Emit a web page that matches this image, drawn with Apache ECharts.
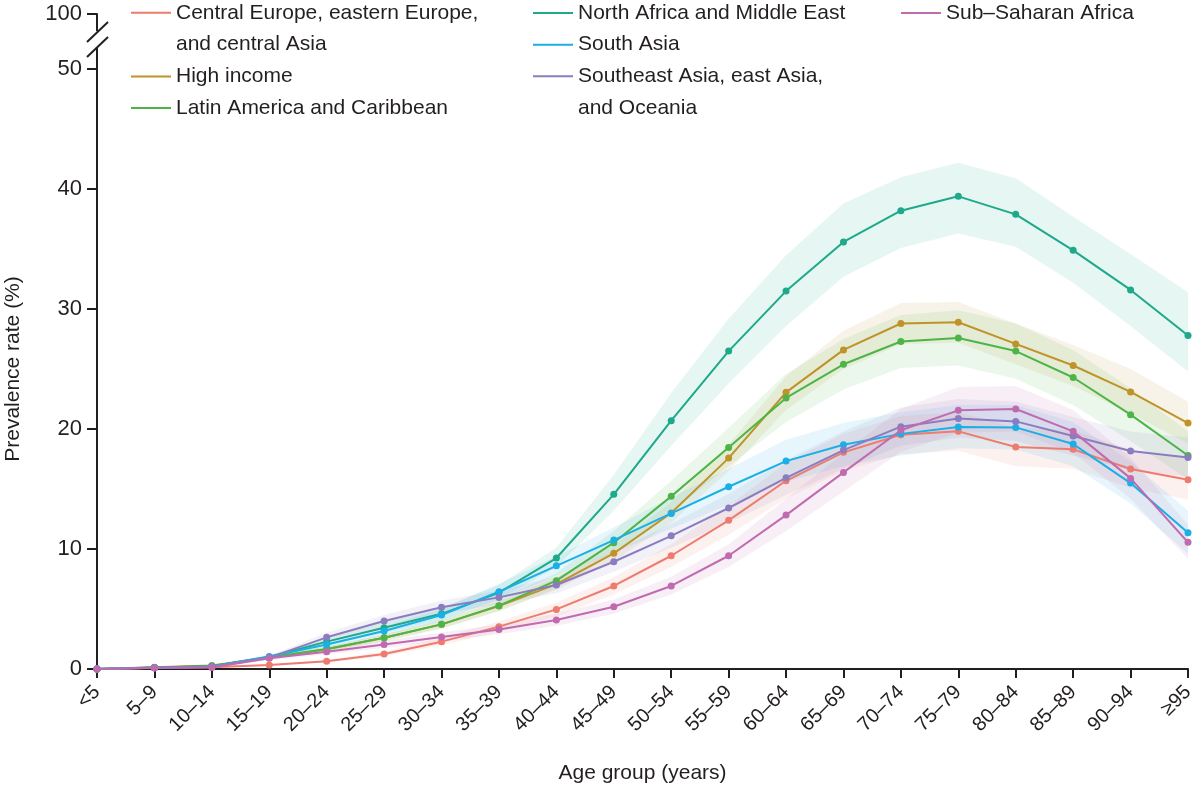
<!DOCTYPE html>
<html>
<head>
<meta charset="utf-8">
<script src="https://cdn.jsdelivr.net/npm/echarts@6/dist/echarts.min.js"></script>
<style>
html,body{margin:0;padding:0;background:#fff;}
#chart{width:1200px;height:787px;}
</style>
</head>
<body>
<div id="chart"></div>
<script>
// ---------- data ----------
var categories = ['<5','5–9','10–14','15–19','20–24','25–29','30–34','35–39','40–44','45–49','50–54','55–59','60–64','65–69','70–74','75–79','80–84','85–89','90–94','≥95'];

var yTickValues = [0, 10, 20, 30, 40, 50, 54.6];
var yTickLabels = ['0', '10', '20', '30', '40', '50', '100'];

var names = [
  'Central Europe, eastern Europe, and central Asia',
  'High income',
  'Latin America and Caribbean',
  'North Africa and Middle East',
  'South Asia',
  'Southeast Asia, east Asia, and Oceania',
  'Sub-Saharan Africa'
];

var centralEurope = [0, 0.1, 0.15, 0.33, 0.64, 1.25, 2.28, 3.53, 4.97, 6.92, 9.44, 12.39, 15.69, 18.06, 19.53, 19.81, 18.5, 18.31, 16.67, 15.78];
var centralEuropeLo = [0, 0.07, 0.11, 0.27, 0.54, 1.07, 1.98, 3.1, 4.4, 6.2, 8.5, 11.2, 14.2, 16.5, 17.9, 18.2, 16.9, 16.7, 15.1, 14.1];
var centralEuropeHi = [0, 0.13, 0.19, 0.4, 0.75, 1.45, 2.6, 3.95, 5.55, 7.65, 10.4, 13.6, 17.2, 19.6, 21.1, 21.4, 20.1, 19.9, 18.3, 17.5];

var highIncome = [0, 0.15, 0.3, 0.95, 1.65, 2.6, 3.72, 5.25, 7.08, 9.64, 13.0, 17.58, 23.06, 26.6, 28.8, 28.9, 27.1, 25.3, 23.1, 20.5];
var highIncomeLo = [0, 0.1, 0.22, 0.8, 1.45, 2.35, 3.4, 4.85, 6.6, 9.0, 12.2, 16.5, 21.6, 25.0, 27.1, 27.2, 25.4, 23.6, 21.3, 18.8];
var highIncomeHi = [0, 0.2, 0.38, 1.1, 1.85, 2.85, 4.05, 5.65, 7.6, 10.3, 13.9, 18.7, 24.4, 28.2, 30.5, 30.6, 28.8, 27.0, 25.0, 22.3];

var latinAmerica = [0, 0.12, 0.25, 0.95, 1.67, 2.6, 3.72, 5.28, 7.36, 10.53, 14.39, 18.47, 22.6, 25.4, 27.3, 27.6, 26.5, 24.3, 21.2, 17.8];
var latinAmericaLo = [0, 0.08, 0.2, 0.8, 1.45, 2.3, 3.35, 4.8, 6.7, 9.6, 13.1, 16.9, 20.6, 23.3, 25.1, 25.3, 24.2, 22.0, 19.0, 15.8];
var latinAmericaHi = [0, 0.16, 0.3, 1.1, 1.9, 2.9, 4.1, 5.8, 8.0, 11.5, 15.7, 20.1, 24.6, 27.5, 29.5, 29.9, 28.8, 26.6, 23.4, 19.8];

var northAfrica = [0, 0.12, 0.22, 1.0, 2.28, 3.44, 4.6, 6.36, 9.25, 14.56, 20.7, 26.5, 31.5, 35.6, 38.2, 39.4, 37.9, 34.9, 31.6, 27.8];
var northAfricaLo = [0, 0.08, 0.17, 0.85, 1.95, 3.0, 4.1, 5.8, 8.5, 13.2, 18.6, 23.8, 28.6, 32.7, 35.1, 36.3, 35.2, 32.2, 28.6, 24.8];
var northAfricaHi = [0, 0.16, 0.28, 1.15, 2.6, 3.9, 5.1, 7.0, 10.1, 16.2, 23.0, 29.2, 34.5, 38.8, 41.0, 42.2, 40.9, 37.7, 34.6, 31.4];

var southAsia = [0, 0.1, 0.2, 1.05, 2.05, 3.17, 4.5, 6.44, 8.6, 10.75, 12.97, 15.19, 17.33, 18.69, 19.6, 20.17, 20.14, 18.75, 15.5, 11.36];
var southAsiaLo = [0, 0.07, 0.15, 0.9, 1.8, 2.8, 4.0, 5.8, 7.8, 9.7, 11.7, 13.7, 15.6, 16.9, 17.8, 18.4, 18.3, 16.9, 13.8, 9.6];
var southAsiaHi = [0, 0.13, 0.25, 1.2, 2.3, 3.55, 5.0, 7.1, 9.4, 11.8, 14.3, 16.7, 19.1, 20.5, 21.4, 22.0, 22.0, 20.6, 17.3, 13.2];

var southeastAsia = [0, 0.1, 0.18, 0.95, 2.64, 4.0, 5.14, 5.97, 7.0, 8.94, 11.1, 13.42, 15.94, 18.25, 20.2, 20.89, 20.64, 19.42, 18.17, 17.64];
var southeastAsiaLo = [0, 0.07, 0.14, 0.8, 2.25, 3.5, 4.6, 5.4, 6.3, 8.1, 10.1, 12.2, 14.5, 16.7, 18.6, 19.3, 19.0, 17.8, 16.6, 16.0];
var southeastAsiaHi = [0, 0.13, 0.22, 1.1, 3.05, 4.5, 5.7, 6.55, 7.7, 9.8, 12.1, 14.6, 17.4, 19.8, 21.8, 22.5, 22.3, 21.0, 19.8, 19.3];

var subSaharan = [0, 0.08, 0.12, 0.9, 1.44, 2.05, 2.67, 3.3, 4.08, 5.19, 6.92, 9.44, 12.83, 16.39, 19.9, 21.56, 21.67, 19.81, 15.89, 10.56];
var subSaharanLo = [0, 0.05, 0.09, 0.75, 1.2, 1.75, 2.3, 2.9, 3.6, 4.6, 6.2, 8.5, 11.5, 14.8, 18.1, 19.7, 19.8, 18.0, 14.2, 9.2];
var subSaharanHi = [0, 0.11, 0.15, 1.05, 1.7, 2.35, 3.05, 3.7, 4.6, 5.8, 7.7, 10.4, 14.2, 18.0, 21.7, 23.5, 23.6, 21.6, 17.6, 12.0];

// ---------- styles / layout ----------
var colors = ['#EE7B6D', '#BF9329', '#4DB548', '#1DA98A', '#1AAFE6', '#8A7DBF', '#C06AB0'];
var legendText = [
  'Central Europe, eastern Europe,\nand central Asia',
  'High income',
  'Latin America and Caribbean',
  'North Africa and Middle East',
  'South Asia',
  'Southeast Asia, east Asia,\nand Oceania',
  'Sub–Saharan Africa'
];
var legendCol = [0, 0, 0, 1, 1, 1, 2];
var legendRow = [0, 2, 3, 0, 1, 2, 0];
var colLeft = [131, 533, 901];
var rowY0 = 12, rowStep = 31.7, lineH = 31.7;

var FONT = "'Liberation Sans', Arial, sans-serif";
var INK = '#231F20';

var values = [centralEurope, highIncome, latinAmerica, northAfrica, southAsia, southeastAsia, subSaharan];
var lows = [centralEuropeLo, highIncomeLo, latinAmericaLo, northAfricaLo, southAsiaLo, southeastAsiaLo, subSaharanLo];
var highs = [centralEuropeHi, highIncomeHi, latinAmericaHi, northAfricaHi, southAsiaHi, southeastAsiaHi, subSaharanHi];

var series = [];
// uncertainty bands
for (var k = 0; k < names.length; k++) {
  series.push({
    name: names[k] + ' lower', type: 'line', stack: 'band' + k, data: lows[k],
    symbol: 'none', silent: true, lineStyle: { opacity: 0 }, z: 1
  });
  series.push({
    name: names[k] + ' band', type: 'line', stack: 'band' + k,
    data: highs[k].map(function (h, i) { return +(h - lows[k][i]).toFixed(3); }),
    symbol: 'none', silent: true, lineStyle: { opacity: 0 },
    areaStyle: { color: colors[k], opacity: 0.11 }, z: 1
  });
}
// lines
for (var k2 = 0; k2 < names.length; k2++) {
  series.push({
    name: names[k2], type: 'line', data: values[k2],
    symbol: 'circle', symbolSize: 7, showAllSymbol: true,
    lineStyle: { color: colors[k2], width: 2 },
    itemStyle: { color: colors[k2] }, z: 3
  });
}

// legends (one per entry). Two-line entries use an icon whose visible stroke
// sits at the top of a taller box so that it lines up with the first text line.
var legends = [];
for (var j = 0; j < names.length; j++) {
  (function (idx) {
    var twoLines = legendText[idx].indexOf('\n') >= 0;
    var iconY = rowY0 + rowStep * legendRow[idx];
    var iconH = twoLines ? Math.round(lineH) + 2 : 2;
    var iconPath = twoLines
      ? 'path://M0,0L40,0L40,2L0,2Z M0,' + (iconH - 0.01) + 'L0.01,' + (iconH - 0.01) + 'L0.01,' + iconH + 'L0,' + iconH + 'Z'
      : 'rect';
    legends.push({
      data: [names[idx]],
      left: colLeft[legendCol[idx]],
      top: iconY - lineH / 2 + 1,
      padding: 0,
      orient: 'vertical',
      icon: iconPath,
      itemWidth: 40,
      itemHeight: iconH,
      selectedMode: false,
      formatter: function () { return legendText[idx]; },
      textStyle: { fontFamily: FONT, fontSize: 21, color: INK, lineHeight: lineH }
    });
  })(j);
}

var chart = echarts.init(document.getElementById('chart'), null, { renderer: 'canvas' });
var option = {
  animation: false,
  backgroundColor: '#fff',
  color: colors,
  legend: legends,
  grid: { left: 97, right: 12, top: 14, bottom: 118, containLabel: false, outerBoundsMode: 'none' },
  xAxis: {
    type: 'category',
    data: categories,
    boundaryGap: false,
    name: 'Age group (years)',
    nameLocation: 'middle',
    nameGap: 94,
    nameTextStyle: { fontFamily: FONT, fontSize: 21, color: INK },
    axisLine: { lineStyle: { color: INK, width: 2 } },
    axisTick: { length: 9, lineStyle: { color: INK, width: 2 }, alignWithLabel: true, interval: 0 },
    axisLabel: { interval: 0, rotate: 45, fontFamily: FONT, fontSize: 20, color: INK, margin: 20 },
    splitLine: { show: false }
  },
  yAxis: {
    type: 'value',
    min: 0,
    max: 54.6,
    name: 'Prevalence rate (%)',
    nameLocation: 'middle',
    nameGap: 73,
    nameTextStyle: { fontFamily: FONT, fontSize: 21, color: INK, padding: [0, 55, 0, 0] },
    axisLine: { show: true, lineStyle: { color: INK, width: 2 } },
    axisTick: { show: true, length: 10, lineStyle: { color: INK, width: 2 }, customValues: yTickValues },
    axisLabel: {
      fontFamily: FONT, fontSize: 22, color: INK, margin: 15,
      customValues: yTickValues,
      formatter: function (v) {
        var i = yTickValues.indexOf(v);
        return i >= 0 ? yTickLabels[i] : '';
      }
    },
    splitLine: { show: false }
  },
  series: series
};
chart.setOption(option);

// axis break marks (decoration, positioned from the axis itself)
var axisX = chart.convertToPixel({ xAxisIndex: 0 }, categories[0]);
var axisTopY = chart.convertToPixel({ yAxisIndex: 0 }, yTickValues[yTickValues.length - 1]);
chart.setOption({
  graphic: [
    { type: 'rect', shape: { x: axisX - 5, y: axisTopY + 17, width: 10, height: 16 }, style: { fill: '#fff' }, z: 100 },
    { type: 'line', shape: { x1: axisX - 10, y1: axisTopY + 28, x2: axisX + 11, y2: axisTopY + 8 }, style: { stroke: INK, lineWidth: 2 }, z: 101 },
    { type: 'line', shape: { x1: axisX - 10, y1: axisTopY + 43, x2: axisX + 11, y2: axisTopY + 23 }, style: { stroke: INK, lineWidth: 2 }, z: 101 }
  ]
});
</script>
</body>
</html>
